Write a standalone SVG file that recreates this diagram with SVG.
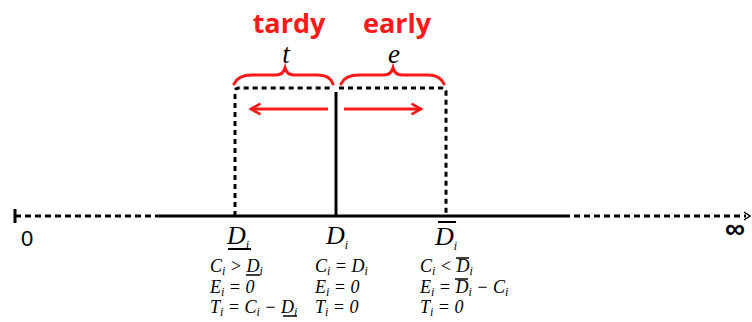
<svg xmlns="http://www.w3.org/2000/svg" width="752" height="322" viewBox="0 0 752 322">
<style>
.red{font-family:"Open Sans","Liberation Sans",sans-serif;font-weight:bold;font-size:27px;fill:#ff1a1a;text-anchor:middle}
.var{font-family:"Liberation Serif",serif;font-style:italic;font-size:27px;fill:#000;text-anchor:middle}
.lab{font-family:"Liberation Serif",serif;font-style:italic;font-size:26px;fill:#000}
.f{font-family:"Liberation Serif",serif;font-style:italic;font-size:18px;fill:#000}
.sub{font-size:12px}
.axis{stroke:#000;stroke-width:3;fill:none}
.dash{stroke:#000;stroke-width:3;fill:none;stroke-dasharray:6 4}
.dot{stroke:#000;stroke-width:3;fill:none;stroke-dasharray:5 4}
.brace{stroke:#ff1a1a;stroke-width:3;fill:none;stroke-linecap:round}
.arr{stroke:#ff1a1a;stroke-width:3;fill:none}
.bar{stroke:#000;stroke-width:1.5}
</style>
<defs>
<marker id="ah" viewBox="0 0 10 10" refX="8" refY="5" markerWidth="4.5" markerHeight="4.5" orient="auto">
<path d="M1,1 L8,5 L1,9" fill="none" stroke="#ff1a1a" stroke-width="2"/>
</marker>
</defs>
<rect width="752" height="322" fill="#fff"/>

<g id="axis">
<line x1="15" y1="209" x2="15" y2="223" class="axis"/>
<line x1="15" y1="216" x2="155" y2="216" class="dash"/>
<line x1="155" y1="216" x2="570" y2="216" class="axis"/>
<line x1="574" y1="216" x2="746" y2="216" class="dash"/>
<path d="M744,212 L750,216 L744,220" fill="none" stroke="#000" stroke-width="1.5"/>
<text x="27" y="246" font-family="Liberation Sans, sans-serif" font-size="22" text-anchor="middle">0</text>
<text x="735" y="238" font-family="Liberation Sans, sans-serif" font-size="28" font-weight="bold" text-anchor="middle">∞</text>
</g>

<g id="window">
<path d="M235,216 L235,92 Q235,88 239,88 L333,88" class="dot"/>
<path d="M339,88 L442,88 Q446,88 446,92 L446,216" class="dot"/>
</g>

<g id="due-date">
<line x1="336" y1="92" x2="336" y2="216" class="axis"/>
</g>

<g id="tardy">
<text x="289" y="33" class="red">tardy</text>
<text x="286" y="63" class="var">t</text>
<path d="M234,84 Q238,75 252,75 L276,75 Q283,75 285,68 Q287,75 294,75 L318,75 Q330,75 333,84" class="brace"/>
</g>

<g id="early">
<text x="397" y="33" class="red">early</text>
<text x="394" y="63" class="var">e</text>
<path d="M341,84 Q345,75 359,75 L384,75 Q391,75 393,68 Q395,75 402,75 L428,75 Q440,75 444,84" class="brace"/>
</g>

<g id="connectors">
<line x1="328" y1="109" x2="251" y2="109" class="arr" marker-end="url(#ah)"/>
<line x1="344" y1="109" x2="421" y2="109" class="arr" marker-end="url(#ah)"/>
</g>

<g id="label-lower">
<text x="227" y="244" class="lab">D<tspan class="sub" font-size="15" dy="5">i</tspan></text>
<line x1="228" y1="249" x2="251" y2="249" stroke="#000" stroke-width="2"/>
<text x="210" y="272" class="f">C<tspan class="sub" dy="3">i</tspan><tspan dy="-3"> &gt; D</tspan><tspan class="sub" dy="3">i</tspan></text>
<line x1="246" y1="275" x2="260" y2="275" class="bar"/>
<text x="210" y="293" class="f">E<tspan class="sub" dy="3">i</tspan><tspan dy="-3"> = 0</tspan></text>
<text x="210" y="313" class="f">T<tspan class="sub" dy="3">i</tspan><tspan dy="-3"> = C</tspan><tspan class="sub" dy="3">i</tspan><tspan dy="-3"> − D</tspan><tspan class="sub" dy="3">i</tspan></text>
<line x1="283" y1="316" x2="297" y2="316" class="bar"/>
</g>

<g id="label-due">
<text x="326" y="244" class="lab">D<tspan class="sub" font-size="15" dy="5">i</tspan></text>
<text x="315" y="272" class="f">C<tspan class="sub" dy="3">i</tspan><tspan dy="-3"> = D</tspan><tspan class="sub" dy="3">i</tspan></text>
<text x="315" y="293" class="f">E<tspan class="sub" dy="3">i</tspan><tspan dy="-3"> = 0</tspan></text>
<text x="315" y="313" class="f">T<tspan class="sub" dy="3">i</tspan><tspan dy="-3"> = 0</tspan></text>
</g>

<g id="label-upper">
<line x1="438" y1="222" x2="456" y2="222" stroke="#000" stroke-width="2"/>
<text x="435" y="245" class="lab">D<tspan class="sub" font-size="15" dy="5">i</tspan></text>
<text x="420" y="272" class="f">C<tspan class="sub" dy="3">i</tspan><tspan dy="-3"> &lt; D</tspan><tspan class="sub" dy="3">i</tspan></text>
<line x1="456" y1="258" x2="469" y2="258" class="bar"/>
<text x="420" y="293" class="f">E<tspan class="sub" dy="3">i</tspan><tspan dy="-3"> = D</tspan><tspan class="sub" dy="3">i</tspan><tspan dy="-3"> − C</tspan><tspan class="sub" dy="3">i</tspan></text>
<line x1="455" y1="279" x2="468" y2="279" class="bar"/>
<text x="420" y="313" class="f">T<tspan class="sub" dy="3">i</tspan><tspan dy="-3"> = 0</tspan></text>
</g>
</svg>
